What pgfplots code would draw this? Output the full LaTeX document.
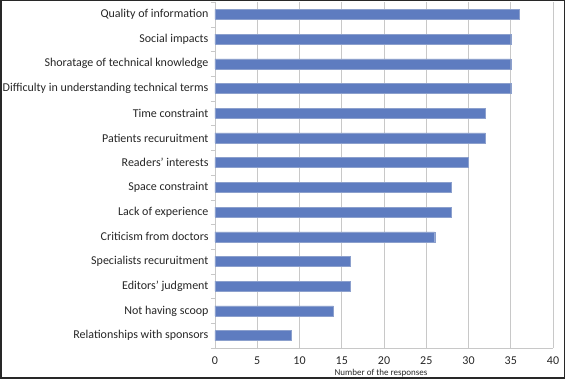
\documentclass[border=0pt]{standalone}
\usepackage{pgfplots}
\pgfplotsset{compat=1.18}
\usepackage{fontspec}
\setmainfont{Carlito}
\definecolor{barblue}{RGB}{94,124,192}
\definecolor{gridgray}{RGB}{200,200,200}
\begin{document}
\begin{tikzpicture}
\useasboundingbox (0,0) rectangle (565pt,379pt);
\draw[line width=1.5pt, color={rgb,255:red,40;green,40;blue,40}] (0.75pt,0.75pt) rectangle (564.25pt,378.25pt);
\begin{axis}[
  at={(215pt,31pt)}, anchor=south west,
  scale only axis, width=338pt, height=346pt,
  xbar, bar width=10pt,
  xmin=0, xmax=40, ymin=-0.5, ymax=13.5,
  y dir=reverse,
  xtick={0,5,...,40},
  ytick={0,...,13},
  yticklabels={Quality of information, Social impacts, Shoratage of technical knowledge, Difficulty in understanding technical terms, Time constraint, Patients recuruitment, Readers' interests, Space constraint, Lack of experience, Criticism from doctors, Specialists recuruitment, Editors' judgment, Not having scoop, Relationships with sponsors},
  minor ytick={-0.5,0.5,...,13.5},
  major tick length=0pt,
  minor tick length=4pt,
  tick align=outside,
  tick style={gridgray},
  axis x line*=bottom, axis y line*=left,
  axis line style={gridgray, line width=0.8pt},
  x axis line style={-}, y axis line style={-},
  xmajorgrids, major grid style={gridgray, line width=0.8pt},
  ymajorgrids=false, yminorgrids=false,
  /pgf/number format/assume math mode=true,
  ticklabel style={font=\fontsize{12}{14}\selectfont, text=black!85},
  yticklabel style={xshift=-3pt},
  xticklabel style={anchor=center, yshift=-13pt, inner ysep=1pt},
  xlabel={Number of the responses},
  xlabel style={at={(axis description cs:0.5,0)}, anchor=center, xshift=-3pt, yshift=-25.5pt, font=\fontsize{9}{10}\selectfont, text=black!85, inner ysep=0.5pt},
]
\addplot[fill=barblue, draw={rgb,255:red,140;green,160;blue,205}, line width=0.3pt] coordinates {
(36,0) (35,1) (35,2) (35,3) (32,4) (32,5) (30,6) (28,7) (28,8) (26,9) (16,10) (16,11) (14,12) (9,13)
};
\end{axis}
\end{tikzpicture}
\end{document}
